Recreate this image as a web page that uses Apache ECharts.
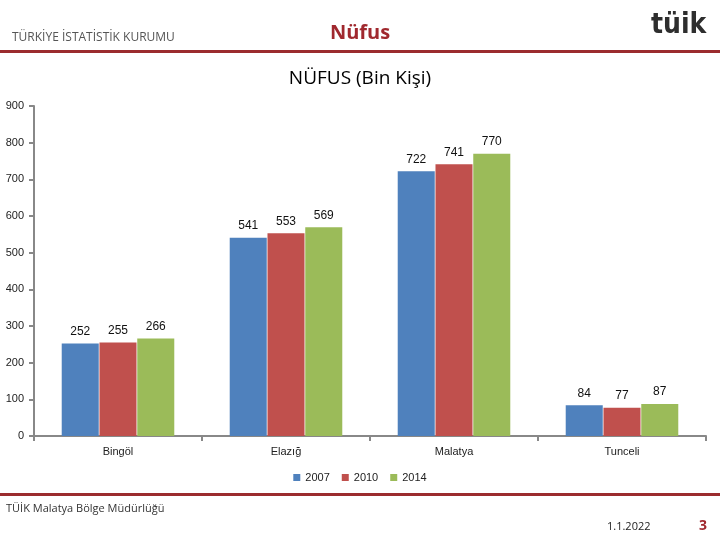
<!DOCTYPE html>
<html><head><meta charset="utf-8">
<script src="https://cdn.jsdelivr.net/npm/echarts@6/dist/echarts.min.js"></script>
<style>html,body{margin:0;padding:0;background:#fff}#c{width:720px;height:540px}</style>
</head><body><div id="c"></div>
<script>
const categories = ['Bingöl', 'Elazığ', 'Malatya', 'Tunceli'];
const seriesNames = ['2007', '2010', '2014'];
const values2007 = [252, 541, 722, 84];
const values2010 = [255, 553, 741, 77];
const values2014 = [266, 569, 770, 87];
const yTicks = [0, 100, 200, 300, 400, 500, 600, 700, 800, 900];

const colors = ['#4f81bd', '#c0504d', '#9bbb59'];
const data = [values2007, values2010, values2014];
const chart = echarts.init(document.getElementById('c'));
const FONT = 'Liberation Sans, Arial, sans-serif';
chart.setOption({
  animation: false,
  backgroundColor: '#fff',
  title: {
    text: 'NÜFUS (Bin Kişi)', left: 'center', top: 64,
    textStyle: { fontFamily: 'Open Sans, Noto Sans, sans-serif', fontSize: 19, fontWeight: 'normal', color: '#000' }
  },
  graphic: [
    { type: 'text', left: 12, top: 32, style: { text: 'TÜRKİYE İSTATİSTİK KURUMU', font: '12px "Open Sans", sans-serif', fill: '#555' } },
    { type: 'text', left: 'center', top: 23, style: { text: 'Nüfus', font: 'bold 20px "Open Sans", sans-serif', fill: '#a0282e' } },
    { type: 'text', left: 651, top: 12, style: { text: 'tüik', font: 'bold 28px "DejaVu Sans Condensed", sans-serif', fill: '#2e2e2e' } },
    { type: 'rect', shape: { x: 0, y: 50, width: 720, height: 3 }, style: { fill: '#9b2c2f' } },
    { type: 'rect', shape: { x: 0, y: 493, width: 720, height: 3 }, style: { fill: '#9b2c2f' } },
    { type: 'text', left: 6, top: 503, style: { text: 'TÜİK Malatya Bölge Müdürlüğü', font: '11px "Open Sans", sans-serif', fill: '#333' } },
    { type: 'text', left: 607, top: 521, style: { text: '1.1.2022', font: '11px "Open Sans", sans-serif', fill: '#222' } },
    { type: 'text', left: 699, top: 519, style: { text: '3', font: 'bold 14px "Open Sans", sans-serif', fill: '#a0282e' } }
  ],
  legend: {
    data: seriesNames, left: 'center', top: 467, itemWidth: 7, itemHeight: 7, itemGap: 12,
    icon: 'rect', textStyle: { fontFamily: FONT, fontSize: 11, color: '#222' }
  },
  grid: { left: 34, right: 14, top: 106, bottom: 104, containLabel: false },
  xAxis: {
    type: 'category', data: categories,
    axisLine: { lineStyle: { color: '#888', width: 2 } },
    axisTick: { show: true, length: 5, lineStyle: { color: '#888', width: 2 } },
    axisLabel: { fontFamily: FONT, fontSize: 11, color: '#222', margin: 10 }
  },
  yAxis: {
    type: 'value', min: yTicks[0], max: yTicks[yTicks.length - 1], interval: 100,
    axisLine: { show: true, lineStyle: { color: '#888', width: 2 } },
    axisTick: { show: true, length: 5, lineStyle: { color: '#888', width: 2 } },
    splitLine: { show: false },
    axisLabel: { fontFamily: FONT, fontSize: 11, color: '#222', margin: 10 }
  },
  series: seriesNames.map((n, i) => ({
    name: n, type: 'bar', data: data[i], barGap: '2%', barCategoryGap: '33%',
    itemStyle: { color: colors[i] },
    label: { show: true, position: 'top', distance: 6, fontFamily: FONT, fontSize: 12, color: '#111' }
  }))
});
</script></body></html>
